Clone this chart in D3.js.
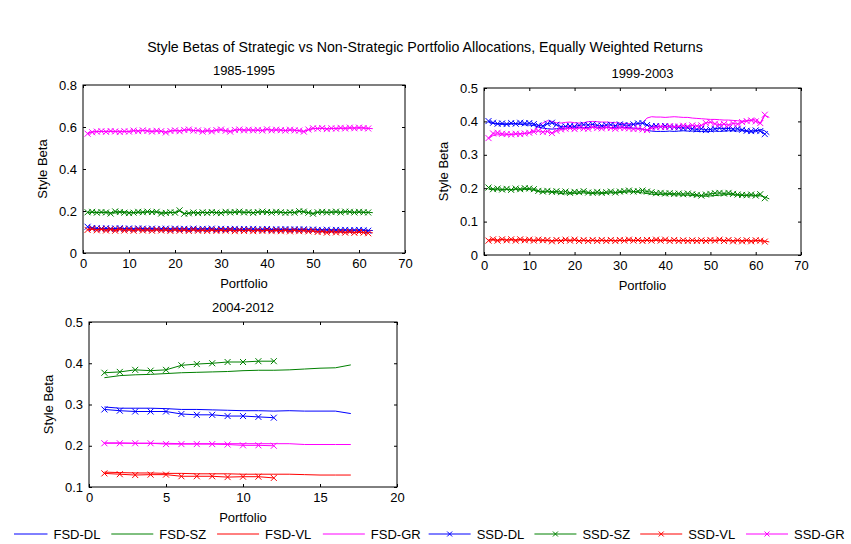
<!DOCTYPE html>
<html>
<head>
<meta charset="utf-8">
<script src="https://cdn.jsdelivr.net/npm/d3@7"></script>
<style>
  body { margin: 0; background: #fff; }
  svg { display: block; font-family: "Liberation Sans", Arial, Helvetica, sans-serif; }
</style>
</head>
<body>
<svg id="chart" width="851" height="544"></svg>
<script>
// ---- data: 1985-1995 ----
const p1FsdDL = [0.120,0.118,0.117,0.117,0.116,0.117,0.116,0.117,0.116,0.116,0.115,0.116,0.115,0.116,0.115,0.115,0.114,0.115,0.115,0.114,0.115,0.114,0.114,0.115,0.114,0.114,0.115,0.114,0.113,0.114,0.114,0.113,0.114,0.113,0.113,0.114,0.113,0.113,0.112,0.113,0.113,0.112,0.113,0.112,0.112,0.113,0.112,0.112,0.111,0.112,0.111,0.110,0.110,0.111,0.110,0.110,0.109,0.110,0.109,0.109,0.110,0.108,0.107];
const p1FsdSZ = [0.191,0.193,0.194,0.192,0.195,0.193,0.190,0.196,0.197,0.194,0.192,0.191,0.193,0.195,0.196,0.195,0.194,0.190,0.192,0.193,0.199,0.189,0.190,0.192,0.191,0.193,0.192,0.194,0.193,0.192,0.195,0.194,0.193,0.195,0.194,0.193,0.192,0.194,0.195,0.194,0.193,0.195,0.194,0.192,0.193,0.194,0.197,0.195,0.193,0.189,0.193,0.195,0.194,0.193,0.195,0.194,0.196,0.195,0.194,0.195,0.193,0.194,0.192];
const p1FsdVL = [0.114,0.113,0.112,0.112,0.111,0.111,0.112,0.111,0.110,0.111,0.110,0.110,0.111,0.110,0.109,0.110,0.110,0.109,0.109,0.110,0.109,0.109,0.108,0.109,0.109,0.108,0.108,0.109,0.108,0.108,0.109,0.108,0.107,0.108,0.108,0.107,0.108,0.107,0.107,0.108,0.107,0.106,0.107,0.107,0.106,0.107,0.106,0.106,0.105,0.104,0.103,0.102,0.102,0.101,0.102,0.101,0.100,0.101,0.100,0.099,0.100,0.098,0.096];
const p1FsdGR = [0.572,0.577,0.579,0.578,0.580,0.579,0.578,0.581,0.577,0.579,0.582,0.581,0.583,0.582,0.580,0.581,0.579,0.576,0.580,0.583,0.582,0.584,0.586,0.584,0.582,0.580,0.582,0.581,0.584,0.586,0.583,0.580,0.584,0.587,0.586,0.585,0.586,0.584,0.585,0.588,0.586,0.585,0.586,0.584,0.585,0.586,0.582,0.580,0.586,0.592,0.594,0.593,0.591,0.592,0.594,0.593,0.595,0.594,0.596,0.595,0.596,0.594,0.592];
const p1SsdDL = [0.125,0.119,0.118,0.116,0.118,0.115,0.117,0.118,0.115,0.117,0.114,0.117,0.116,0.114,0.116,0.113,0.115,0.116,0.113,0.116,0.114,0.115,0.113,0.116,0.113,0.115,0.114,0.116,0.112,0.115,0.113,0.114,0.115,0.112,0.114,0.113,0.115,0.112,0.113,0.114,0.111,0.113,0.112,0.114,0.111,0.113,0.112,0.113,0.110,0.112,0.110,0.109,0.111,0.108,0.110,0.109,0.110,0.108,0.109,0.110,0.108,0.106];
const p1SsdSZ = [0.194,0.196,0.192,0.195,0.193,0.188,0.198,0.195,0.192,0.190,0.192,0.196,0.194,0.197,0.195,0.196,0.188,0.191,0.194,0.192,0.203,0.187,0.189,0.193,0.190,0.194,0.191,0.195,0.192,0.190,0.196,0.193,0.195,0.197,0.193,0.195,0.191,0.195,0.197,0.195,0.192,0.196,0.194,0.191,0.194,0.192,0.199,0.197,0.192,0.187,0.194,0.196,0.193,0.195,0.197,0.193,0.197,0.196,0.193,0.196,0.194,0.193];
const p1SsdVL = [0.110,0.115,0.108,0.113,0.107,0.112,0.106,0.113,0.107,0.111,0.106,0.112,0.107,0.110,0.106,0.111,0.107,0.110,0.105,0.111,0.106,0.110,0.105,0.111,0.106,0.109,0.105,0.110,0.105,0.109,0.106,0.110,0.104,0.109,0.105,0.109,0.104,0.108,0.105,0.109,0.104,0.108,0.104,0.108,0.103,0.108,0.104,0.107,0.103,0.106,0.100,0.103,0.097,0.102,0.098,0.101,0.097,0.101,0.096,0.100,0.097,0.094];
const p1SsdGR = [0.568,0.575,0.578,0.580,0.577,0.581,0.579,0.576,0.580,0.578,0.583,0.580,0.584,0.581,0.578,0.582,0.580,0.574,0.581,0.584,0.580,0.586,0.588,0.583,0.584,0.578,0.583,0.579,0.585,0.588,0.582,0.578,0.586,0.588,0.584,0.587,0.584,0.586,0.583,0.589,0.584,0.587,0.585,0.583,0.587,0.584,0.583,0.578,0.588,0.594,0.592,0.595,0.590,0.594,0.592,0.596,0.593,0.597,0.594,0.597,0.595,0.593];

// ---- data: 1999-2003 ----
const p2FsdDL = [0.397,0.394,0.392,0.391,0.391,0.392,0.393,0.391,0.390,0.389,0.388,0.383,0.380,0.378,0.377,0.378,0.379,0.380,0.381,0.381,0.382,0.381,0.382,0.383,0.382,0.383,0.382,0.381,0.382,0.383,0.382,0.381,0.380,0.379,0.377,0.373,0.371,0.370,0.370,0.370,0.371,0.370,0.371,0.372,0.371,0.371,0.370,0.370,0.369,0.370,0.371,0.370,0.371,0.372,0.372,0.371,0.372,0.370,0.368,0.369,0.376,0.372,0.360];
const p2FsdSZ = [0.197,0.196,0.195,0.195,0.196,0.195,0.196,0.195,0.196,0.196,0.194,0.190,0.188,0.189,0.188,0.186,0.184,0.183,0.183,0.184,0.185,0.186,0.185,0.184,0.183,0.184,0.185,0.186,0.186,0.187,0.188,0.189,0.189,0.188,0.186,0.184,0.182,0.181,0.181,0.180,0.181,0.180,0.180,0.179,0.179,0.178,0.177,0.177,0.176,0.177,0.178,0.179,0.180,0.181,0.180,0.179,0.178,0.178,0.177,0.178,0.177,0.174,0.168];
const p2FsdVL = [0.046,0.045,0.045,0.046,0.045,0.045,0.046,0.045,0.045,0.045,0.044,0.044,0.044,0.043,0.043,0.043,0.044,0.044,0.044,0.044,0.043,0.043,0.043,0.043,0.043,0.043,0.043,0.043,0.043,0.043,0.043,0.044,0.044,0.043,0.043,0.043,0.043,0.044,0.044,0.044,0.043,0.043,0.043,0.043,0.043,0.043,0.043,0.043,0.043,0.043,0.043,0.044,0.044,0.043,0.043,0.043,0.043,0.043,0.042,0.042,0.043,0.042,0.039];
const p2FsdGR = [0.348,0.358,0.360,0.359,0.360,0.361,0.362,0.363,0.364,0.366,0.372,0.385,0.395,0.402,0.400,0.396,0.395,0.397,0.398,0.396,0.395,0.396,0.399,0.400,0.399,0.398,0.398,0.397,0.396,0.395,0.394,0.393,0.392,0.392,0.396,0.410,0.414,0.413,0.413,0.412,0.413,0.414,0.413,0.412,0.412,0.410,0.409,0.408,0.407,0.406,0.406,0.405,0.404,0.404,0.403,0.402,0.401,0.402,0.404,0.408,0.392,0.418,0.412];
const p2SsdDL = [0.401,0.396,0.393,0.394,0.392,0.395,0.393,0.396,0.394,0.395,0.392,0.388,0.386,0.393,0.396,0.390,0.384,0.385,0.386,0.385,0.388,0.390,0.389,0.391,0.388,0.387,0.389,0.390,0.387,0.391,0.389,0.388,0.391,0.394,0.395,0.389,0.385,0.386,0.384,0.386,0.384,0.383,0.382,0.380,0.381,0.378,0.376,0.378,0.374,0.376,0.378,0.380,0.378,0.379,0.377,0.378,0.375,0.372,0.371,0.373,0.371,0.362];
const p2SsdSZ = [0.202,0.197,0.199,0.196,0.198,0.195,0.199,0.197,0.200,0.199,0.197,0.192,0.190,0.192,0.189,0.191,0.188,0.190,0.186,0.189,0.188,0.191,0.187,0.186,0.189,0.186,0.188,0.190,0.187,0.190,0.191,0.193,0.190,0.191,0.193,0.190,0.188,0.185,0.186,0.184,0.185,0.183,0.184,0.182,0.184,0.182,0.180,0.178,0.181,0.183,0.185,0.186,0.184,0.186,0.183,0.181,0.180,0.179,0.181,0.178,0.182,0.170];
const p2SsdVL = [0.043,0.047,0.043,0.047,0.044,0.047,0.043,0.047,0.044,0.046,0.043,0.046,0.044,0.045,0.041,0.045,0.042,0.046,0.043,0.046,0.042,0.045,0.042,0.045,0.042,0.045,0.042,0.045,0.042,0.045,0.043,0.046,0.043,0.045,0.042,0.045,0.043,0.046,0.043,0.046,0.042,0.045,0.042,0.044,0.042,0.044,0.042,0.044,0.042,0.045,0.043,0.046,0.042,0.045,0.041,0.044,0.041,0.044,0.041,0.044,0.043,0.040];
const p2SsdGR = [0.350,0.364,0.366,0.363,0.362,0.361,0.363,0.362,0.364,0.366,0.369,0.372,0.368,0.370,0.365,0.372,0.376,0.378,0.380,0.377,0.381,0.379,0.378,0.383,0.380,0.379,0.382,0.380,0.378,0.381,0.380,0.379,0.377,0.378,0.376,0.374,0.380,0.382,0.385,0.383,0.386,0.384,0.385,0.387,0.385,0.388,0.386,0.388,0.395,0.398,0.393,0.390,0.392,0.389,0.394,0.392,0.398,0.401,0.403,0.400,0.395,0.420];

// ---- data: 2004-2012 ----
const p3FsdDL = [0.294,0.291,0.291,0.291,0.290,0.288,0.288,0.287,0.286,0.285,0.285,0.284,0.285,0.284,0.284,0.284,0.278];
const p3FsdSZ = [0.365,0.370,0.372,0.373,0.375,0.377,0.378,0.379,0.380,0.382,0.383,0.383,0.384,0.386,0.388,0.389,0.396];
const p3FsdVL = [0.136,0.135,0.134,0.134,0.133,0.133,0.132,0.132,0.132,0.131,0.131,0.131,0.131,0.130,0.129,0.129,0.129];
const p3FsdGR = [0.207,0.207,0.206,0.206,0.206,0.205,0.205,0.205,0.205,0.205,0.205,0.205,0.205,0.203,0.203,0.203,0.203];
const p3SsdDL = [0.288,0.285,0.283,0.283,0.283,0.277,0.275,0.275,0.272,0.272,0.270,0.268];
const p3SsdSZ = [0.377,0.379,0.384,0.382,0.384,0.395,0.398,0.400,0.403,0.403,0.405,0.405];
const p3SsdVL = [0.133,0.131,0.129,0.130,0.130,0.126,0.126,0.126,0.124,0.125,0.125,0.122];
const p3SsdGR = [0.206,0.206,0.206,0.206,0.204,0.204,0.204,0.204,0.203,0.201,0.201,0.200];

const styles = ["DL", "SZ", "VL", "GR"];
const styleColors = { DL: "#0000ff", SZ: "#008000", VL: "#ff0000", GR: "#ff00ff" };
const legendLabels = ["FSD-DL", "FSD-SZ", "FSD-VL", "FSD-GR", "SSD-DL", "SSD-SZ", "SSD-VL", "SSD-GR"];

const xTicks70 = [0, 10, 20, 30, 40, 50, 60, 70];
const xTicks20 = [0, 5, 10, 15, 20];
const yTicks08 = [0, 0.2, 0.4, 0.6, 0.8];
const yTicks05 = [0, 0.1, 0.2, 0.3, 0.4, 0.5];
const yTicks0105 = [0.1, 0.2, 0.3, 0.4, 0.5];

const chartTitle = "Style Betas of Strategic vs Non-Strategic Portfolio Allocations, Equally Weighted Returns";

const panels = [
    {
        title: "1985-1995", box: { left: 83, top: 85, right: 405, bottom: 253 },
        xDomain: [0, 70], xTicks: xTicks70, yDomain: [0, 0.8], yTicks: yTicks08,
        fsd: { DL: p1FsdDL, SZ: p1FsdSZ, VL: p1FsdVL, GR: p1FsdGR },
        ssd: { DL: p1SsdDL, SZ: p1SsdSZ, VL: p1SsdVL, GR: p1SsdGR }
    },
    {
        title: "1999-2003", box: { left: 484, top: 88, right: 801, bottom: 255 },
        xDomain: [0, 70], xTicks: xTicks70, yDomain: [0, 0.5], yTicks: yTicks05,
        fsd: { DL: p2FsdDL, SZ: p2FsdSZ, VL: p2FsdVL, GR: p2FsdGR },
        ssd: { DL: p2SsdDL, SZ: p2SsdSZ, VL: p2SsdVL, GR: p2SsdGR }
    },
    {
        title: "2004-2012", box: { left: 89, top: 322, right: 397, bottom: 487 },
        xDomain: [0, 20], xTicks: xTicks20, yDomain: [0.1, 0.5], yTicks: yTicks0105,
        fsd: { DL: p3FsdDL, SZ: p3FsdSZ, VL: p3FsdVL, GR: p3FsdGR },
        ssd: { DL: p3SsdDL, SZ: p3SsdSZ, VL: p3SsdVL, GR: p3SsdGR }
    }
];

const svg = d3.select("#chart");
const fontSize = 13;
const tickLen = 3;
const markerHalf = 3;

svg.append("rect").attr("width", 851).attr("height", 544).attr("fill", "#fff");

svg.append("text")
    .attr("x", 425).attr("y", 52)
    .attr("text-anchor", "middle")
    .attr("font-size", 14.2)
    .attr("fill", "#000")
    .text(chartTitle);

function crossPath(x, y, r) {
    return `M${x - r},${y - r}L${x + r},${y + r}M${x - r},${y + r}L${x + r},${y - r}`;
}

function drawPanel(p) {
    const b = p.box;
    const x = d3.scaleLinear().domain(p.xDomain).range([b.left, b.right]);
    const y = d3.scaleLinear().domain(p.yDomain).range([b.bottom, b.top]);
    const g = svg.append("g");

    const line = d3.line()
        .x((_, i) => x(i + 1))
        .y((d) => y(d));

    // FSD series: plain lines
    styles.forEach((s) => {
        g.append("path")
            .datum(p.fsd[s])
            .attr("fill", "none")
            .attr("stroke", styleColors[s])
            .attr("stroke-width", 1)
            .attr("d", line);
    });

    // SSD series: lines with x markers
    styles.forEach((s) => {
        const vals = p.ssd[s];
        g.append("path")
            .datum(vals)
            .attr("fill", "none")
            .attr("stroke", styleColors[s])
            .attr("stroke-width", 1)
            .attr("d", line);
        g.append("path")
            .attr("fill", "none")
            .attr("stroke", styleColors[s])
            .attr("stroke-width", 1)
            .attr("d", vals.map((d, i) => crossPath(x(i + 1), y(d), markerHalf)).join(""));
    });

    // axes box
    g.append("rect")
        .attr("x", b.left).attr("y", b.top)
        .attr("width", b.right - b.left).attr("height", b.bottom - b.top)
        .attr("fill", "none").attr("stroke", "#000").attr("stroke-width", 1);

    const bottomAxis = d3.axisBottom(x).tickValues(p.xTicks).tickSize(-tickLen).tickPadding(6).tickFormat((d) => String(d));
    const topAxis = d3.axisTop(x).tickValues(p.xTicks).tickSize(-tickLen).tickFormat("");
    const leftAxis = d3.axisLeft(y).tickValues(p.yTicks).tickSize(-tickLen).tickPadding(6).tickFormat((d) => String(d));
    const rightAxis = d3.axisRight(y).tickValues(p.yTicks).tickSize(-tickLen).tickFormat("");

    const styleAxis = (sel) => {
        sel.select(".domain").remove();
        sel.selectAll("line").attr("stroke", "#000");
        sel.selectAll("text").attr("fill", "#000").attr("font-size", fontSize).attr("font-family", null);
    };

    g.append("g").attr("transform", `translate(0,${b.bottom})`).call(bottomAxis).call(styleAxis);
    g.append("g").attr("transform", `translate(0,${b.top})`).call(topAxis).call(styleAxis);
    g.append("g").attr("transform", `translate(${b.left},0)`).call(leftAxis).call(styleAxis);
    g.append("g").attr("transform", `translate(${b.right},0)`).call(rightAxis).call(styleAxis);

    const cx = (b.left + b.right) / 2;
    g.append("text")
        .attr("x", cx).attr("y", b.top - 10)
        .attr("text-anchor", "middle").attr("font-size", fontSize)
        .text(p.title);
    g.append("text")
        .attr("x", cx).attr("y", b.bottom + 35)
        .attr("text-anchor", "middle").attr("font-size", fontSize)
        .text("Portfolio");
    g.append("text")
        .attr("transform", `translate(${b.left - 36},${(b.top + b.bottom) / 2}) rotate(-90)`)
        .attr("text-anchor", "middle").attr("font-size", fontSize)
        .text("Style Beta");
}

panels.forEach(drawPanel);

// legend along the bottom
const legendY = 534;
const legendX = d3.scaleLinear().domain([0, legendLabels.length - 1]).range([5.5, 746]);
const legend = svg.append("g");
legendLabels.forEach((label, i) => {
    const s = styles[i % 4];
    const x0 = legendX(i);
    const x1 = x0 + 42;
    legend.append("line")
        .attr("x1", Math.max(x0, 14)).attr("x2", x1)
        .attr("y1", legendY).attr("y2", legendY)
        .attr("stroke", styleColors[s]).attr("stroke-width", 1);
    if (i >= 4) {
        legend.append("path")
            .attr("d", crossPath((x0 + x1) / 2, legendY, 2.5))
            .attr("stroke", styleColors[s]).attr("stroke-width", 1).attr("fill", "none");
    }
    legend.append("text")
        .attr("x", x1 + 6).attr("y", legendY + 4.5)
        .attr("font-size", fontSize)
        .text(label);
});
</script>
</body>
</html>
